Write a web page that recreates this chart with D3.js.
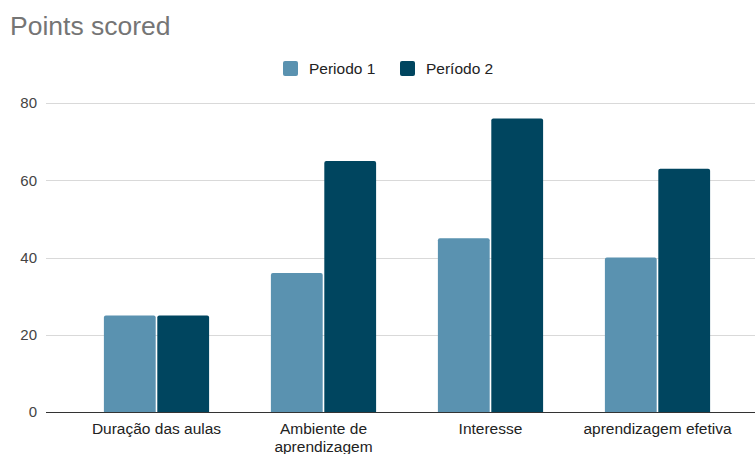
<!DOCTYPE html>
<html>
<head>
<meta charset="utf-8">
<script src="https://cdn.jsdelivr.net/npm/d3@7"></script>
<style>
  body { margin: 0; background: #fff; }
  svg { display: block; font-family: "Liberation Sans", Arial, sans-serif; }
  .grid line { stroke: #d9d9d9; stroke-width: 1px; }
  .tick-label { font-size: 15px; fill: #444; }
  .cat-label { font-size: 15.5px; fill: #222; }
  .legend-label { font-size: 15.5px; fill: #222; }
</style>
</head>
<body>
<svg id="chart" width="755" height="454"></svg>
<script>
const categories = ['Duração das aulas', 'Ambiente de aprendizagem', 'Interesse', 'aprendizagem efetiva'];
const series = ['Periodo 1', 'Período 2'];
const periodo1 = [25, 36, 45, 40];
const periodo2 = [25, 65, 76, 63];
const yTicks = [0, 20, 40, 60, 80];
const colors = ['#5a92b0', '#00455f'];

const width = 755, height = 454;
const svg = d3.select('#chart');

// Title
svg.append('text')
  .attr('x', 10)
  .attr('y', 35)
  .attr('font-size', 26.5)
  .attr('fill', '#757575')
  .text('Points scored');

const x = d3.scaleBand()
  .domain(categories)
  .range([73, 741])
  .paddingInner(0.37)
  .paddingOuter(0.185);

const xSub = d3.scaleBand()
  .domain(series)
  .range([0, x.bandwidth()])
  .paddingInner(0.03);

const y = d3.scaleLinear()
  .domain([0, 80])
  .range([412, 103]);

// Gridlines
const grid = svg.append('g').attr('class', 'grid');
grid.selectAll('line')
  .data(yTicks.filter(d => d > 0))
  .enter().append('line')
  .attr('x1', 46)
  .attr('x2', width)
  .attr('y1', d => Math.round(y(d)) + 0.5)
  .attr('y2', d => Math.round(y(d)) + 0.5);

// Y tick labels
svg.append('g').selectAll('text')
  .data(yTicks)
  .enter().append('text')
  .attr('class', 'tick-label')
  .attr('x', 37)
  .attr('y', d => y(d))
  .attr('dy', '0.35em')
  .attr('text-anchor', 'end')
  .text(d => d);

// Bars
const rows = categories.map((c, i) => ({ cat: c, values: [periodo1[i], periodo2[i]] }));
const groups = svg.append('g').selectAll('g')
  .data(rows)
  .enter().append('g')
  .attr('transform', d => `translate(${x(d.cat)},0)`);

groups.selectAll('path')
  .data(d => d.values.map((v, i) => ({ key: series[i], value: v, idx: i })))
  .enter().append('path')
  .attr('fill', d => colors[d.idx])
  .attr('d', d => {
    const x0 = xSub(d.key), w = xSub.bandwidth();
    const y0 = y(d.value), y1 = y(0), r = 2;
    return `M${x0},${y1}V${y0 + r}Q${x0},${y0} ${x0 + r},${y0}H${x0 + w - r}Q${x0 + w},${y0} ${x0 + w},${y0 + r}V${y1}Z`;
  });

// Baseline
svg.append('line')
  .attr('x1', 46)
  .attr('x2', width)
  .attr('y1', 412.5)
  .attr('y2', 412.5)
  .attr('stroke', '#333')
  .attr('stroke-width', 1.2);

// Category labels (wrapped)
const wrapped = {
  'Ambiente de aprendizagem': ['Ambiente de', 'aprendizagem']
};
svg.append('g').selectAll('text')
  .data(categories)
  .enter().append('text')
  .attr('class', 'cat-label')
  .attr('text-anchor', 'middle')
  .attr('x', d => x(d) + x.bandwidth() / 2)
  .attr('y', 434)
  .each(function(d) {
    const lines = wrapped[d] || [d];
    d3.select(this).selectAll('tspan')
      .data(lines)
      .enter().append('tspan')
      .attr('x', x(d) + x.bandwidth() / 2)
      .attr('dy', (l, i) => i === 0 ? 0 : 18)
      .text(l => l);
  });

// Legend
const legendItems = [
  { label: series[0], color: colors[0], x: 283 },
  { label: series[1], color: colors[1], x: 400 }
];
const legend = svg.append('g').selectAll('g')
  .data(legendItems)
  .enter().append('g')
  .attr('transform', d => `translate(${d.x},61)`);
legend.append('rect')
  .attr('width', 15)
  .attr('height', 15)
  .attr('rx', 2)
  .attr('fill', d => d.color);
legend.append('text')
  .attr('class', 'legend-label')
  .attr('x', 26)
  .attr('y', 13)
  .text(d => d.label);
</script>
</body>
</html>
